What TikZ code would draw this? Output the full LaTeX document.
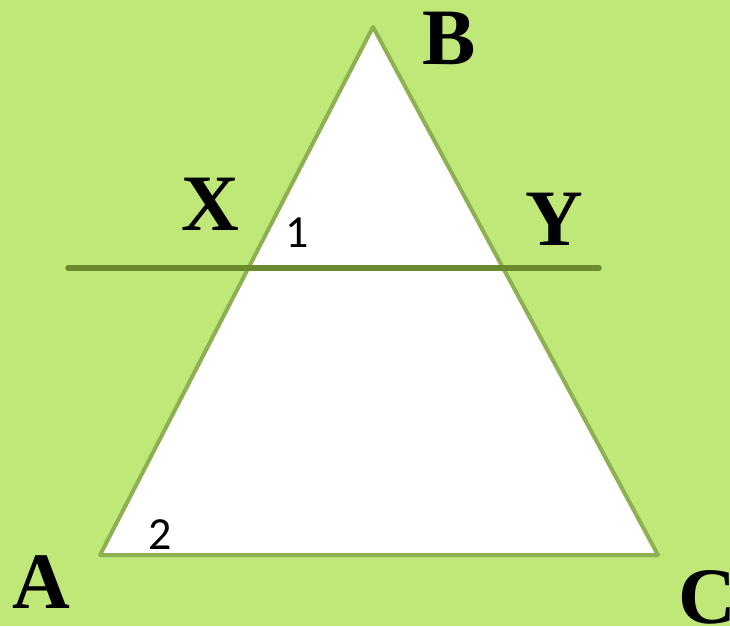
\documentclass[tikz,border=0pt]{standalone}
\usepackage{fontspec}
\setmainfont{Liberation Serif}
\newfontfamily\numfont{Carlito}
\definecolor{bgc}{HTML}{C0E878}
\definecolor{tric}{HTML}{8DB050}
\definecolor{linec}{HTML}{6B8A2E}
\begin{document}
\begin{tikzpicture}[x=1pt,y=-1pt,
  vlabel/.style={font=\fontsize{80}{84}\selectfont\bfseries,inner sep=0pt,anchor=center},
  alabel/.style={font=\numfont\fontsize{46}{50}\selectfont,inner sep=0pt,anchor=center},
  tri/.style={draw=tric,line width=4pt,line join=round,fill=white},
  xyline/.style={draw=linec,line width=5.5pt,line cap=round}]
\useasboundingbox (0,0) rectangle (730,626);
\clip (0,0) rectangle (730,626);
\fill[bgc] (0,0) rectangle (730,626);
\coordinate (A) at (100,555);
\coordinate (B) at (373,27);
\coordinate (C) at (658,555);
\coordinate (L1) at (68,268);
\coordinate (L2) at (599,268);
\draw[tri] (A) -- (B) -- (C) -- cycle;
\draw[xyline] (L1) -- (L2);
\node[vlabel] (lB) at (449,38) {B};
\node[vlabel] (lX) at (210,204) {X};
\node[vlabel] (lY) at (554,219) {Y};
\node[vlabel] (lA) at (41,582) {A};
\node[vlabel] (lC) at (707,597) {C};
\node[alabel] (n1) at (297,233) {1};
\node[alabel] (n2) at (160,535) {2};
\end{tikzpicture}
\end{document}
